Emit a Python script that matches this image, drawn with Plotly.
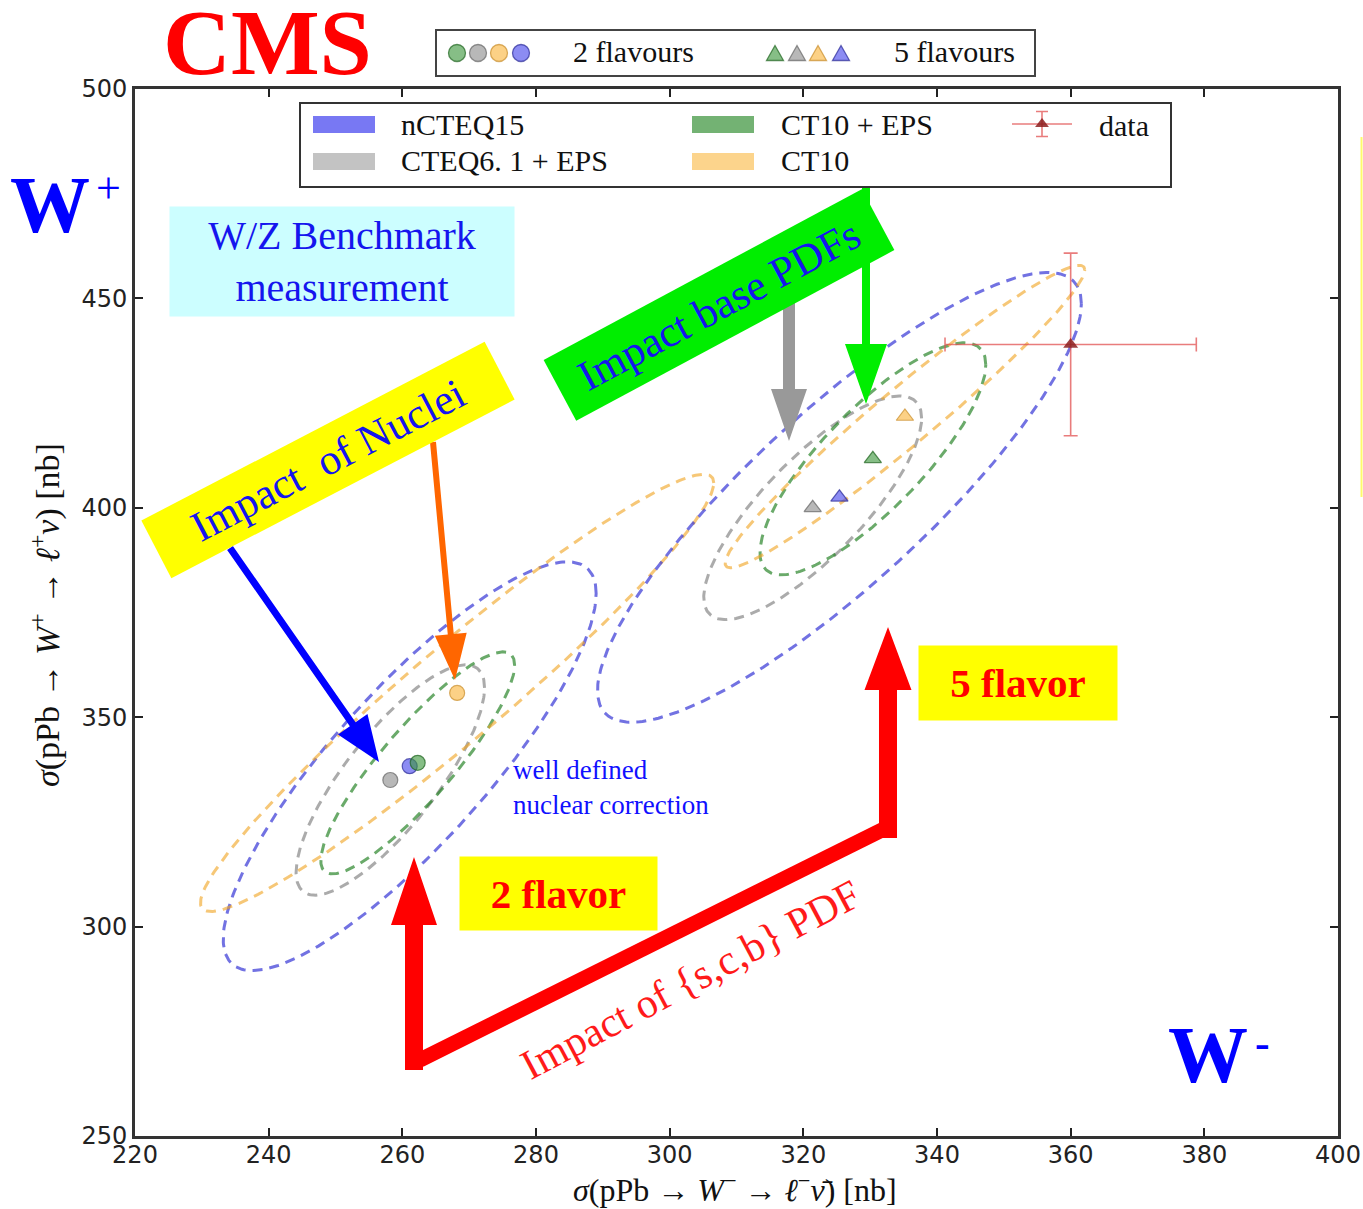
import numpy as np
import plotly.graph_objects as go

# ---- canvas / axes geometry -------------------------------------------------
FIG_W, FIG_H = 1363, 1209
M_L, M_R, M_T, M_B = 135, 25, 89, 73
PLOT_W = FIG_W - M_L - M_R
PLOT_H = FIG_H - M_T - M_B

X_MIN, X_MAX = 220, 400
Y_MIN, Y_MAX = 250, 500
x_ticks = list(range(220, 401, 20))
y_ticks = list(range(250, 501, 50))

# ---- PDF sets ---------------------------------------------------------------
pdf_names = ["nCTEQ15", "CTEQ6.1+EPS", "CT10+EPS", "CT10"]
pdf_line_colors = ["rgba(60,60,215,0.72)", "rgba(120,120,120,0.62)",
                   "rgba(35,130,35,0.68)", "rgba(240,165,35,0.62)"]
pdf_fill_colors = ["rgba(70,70,235,0.62)", "rgba(140,140,140,0.62)",
                   "rgba(60,150,60,0.62)", "rgba(250,180,60,0.62)"]
pdf_edge_colors = ["rgba(40,40,150,0.7)", "rgba(100,100,100,0.7)",
                   "rgba(30,100,30,0.7)", "rgba(200,140,40,0.7)"]
pdf_patch_colors = ["rgba(90,90,240,0.82)", "rgba(185,185,185,0.85)",
                    "rgba(90,165,90,0.85)", "rgba(252,205,120,0.85)"]

# 2 flavours: central values [nb] and 1-sigma correlation ellipses
nf2_wm = [261.1, 258.2, 262.3, 268.2]
nf2_wp = [338.3, 335.0, 339.1, 355.8]
nf2_sig_wm = [27.9, 14.1, 14.5, 38.4]
nf2_sig_wp = [48.8, 27.5, 26.5, 52.2]
nf2_rho = [0.845, 0.80, 0.88, 0.96]

# 5 flavours
nf5_wm = [325.4, 321.4, 330.4, 335.2]
nf5_wp = [402.5, 400.0, 411.7, 421.8]
nf5_sig_wm = [36.2, 16.3, 16.9, 26.9]
nf5_sig_wp = [53.7, 26.7, 27.7, 36.1]
nf5_rho = [0.86, 0.80, 0.81, 0.97]

# CMS measurement
data_wm, data_wp = 360.0, 439.0
data_err_wm, data_err_wp = 18.8, 21.8


# ---- helpers ----------------------------------------------------------------
def paper_x(px):
    return (px - M_L) / PLOT_W


def paper_y(py):
    return 1 - (py - M_T) / PLOT_H


def data_x(px):
    return X_MIN + (px - M_L) / PLOT_W * (X_MAX - X_MIN)


def data_y(py):
    return Y_MAX - (py - M_T) / PLOT_H * (Y_MAX - Y_MIN)


def ellipse(cx, cy, sx, sy, rho, n=300):
    t = np.linspace(0, 2 * np.pi, n)
    ex = cx + sx * np.cos(t)
    ey = cy + sy * (rho * np.cos(t) + np.sqrt(1 - rho ** 2) * np.sin(t))
    return ex, ey


def poly_path(pts):
    return "M " + " L ".join(f"{paper_x(a):.5f},{paper_y(b):.5f}" for a, b in pts) + " Z"


def arrow_shape(x0, y0, x1, y1, shaft, head_len, head_w, color):
    vx, vy = x1 - x0, y1 - y0
    L = np.hypot(vx, vy)
    ux, uy = vx / L, vy / L
    nx, ny = -uy, ux
    bx, by = x1 - ux * head_len, y1 - uy * head_len
    pts = [
        (x0 + nx * shaft / 2, y0 + ny * shaft / 2),
        (bx + nx * shaft / 2, by + ny * shaft / 2),
        (bx + nx * head_w / 2, by + ny * head_w / 2),
        (x1, y1),
        (bx - nx * head_w / 2, by - ny * head_w / 2),
        (bx - nx * shaft / 2, by - ny * shaft / 2),
        (x0 - nx * shaft / 2, y0 - ny * shaft / 2),
    ]
    return dict(type="path", xref="paper", yref="paper", path=poly_path(pts),
                fillcolor=color, line=dict(width=0), layer="above")


def band_shape(x0, y0, x1, y1, thick, color):
    vx, vy = x1 - x0, y1 - y0
    L = np.hypot(vx, vy)
    nx, ny = -vy / L, vx / L
    pts = [(x0 + nx * thick / 2, y0 + ny * thick / 2), (x1 + nx * thick / 2, y1 + ny * thick / 2),
           (x1 - nx * thick / 2, y1 - ny * thick / 2), (x0 - nx * thick / 2, y0 - ny * thick / 2)]
    return dict(type="path", xref="paper", yref="paper", path=poly_path(pts),
                fillcolor=color, line=dict(width=0), layer="above")


def rect_px(x0, y0, x1, y1, fill, line_color=None, lw=0, layer="above"):
    return dict(type="rect", xref="paper", yref="paper",
                x0=paper_x(x0), x1=paper_x(x1), y0=paper_y(y1), y1=paper_y(y0),
                fillcolor=fill, line=dict(color=line_color or fill, width=lw), layer=layer)


def circle_px(cx, cy, r, fill, edge):
    return dict(type="circle", xref="paper", yref="paper",
                x0=paper_x(cx - r), x1=paper_x(cx + r), y0=paper_y(cy + r), y1=paper_y(cy - r),
                fillcolor=fill, line=dict(color=edge, width=1.3), layer="above")


def triangle_px(cx, cy, half_w, h, fill, edge):
    pts = [(cx - half_w, cy + h / 2), (cx + half_w, cy + h / 2), (cx, cy - h / 2)]
    return dict(type="path", xref="paper", yref="paper", path=poly_path(pts),
                fillcolor=fill, line=dict(color=edge, width=1.3), layer="above")


SERIF = "Liberation Serif, Times New Roman, serif"
fig = go.Figure()

# ---- correlation ellipses -----------------------------------------------------
for cxs, cys, sxs, sys_, rhos in [(nf2_wm, nf2_wp, nf2_sig_wm, nf2_sig_wp, nf2_rho),
                                  (nf5_wm, nf5_wp, nf5_sig_wm, nf5_sig_wp, nf5_rho)]:
    for i in range(len(pdf_names)):
        ex, ey = ellipse(cxs[i], cys[i], sxs[i], sys_[i], rhos[i])
        fig.add_trace(go.Scatter(x=ex, y=ey, mode="lines", name=pdf_names[i],
                                 line=dict(color=pdf_line_colors[i], width=3, dash="10px,7px"),
                                 hoverinfo="skip"))

# central values: circles for 2 flavours, triangles for 5 flavours
draw_order = [1, 0, 2, 3]
for cxs, cys, sym in [(nf2_wm, nf2_wp, "circle"), (nf5_wm, nf5_wp, "triangle-up")]:
    for i in draw_order:
        fig.add_trace(go.Scatter(x=[cxs[i]], y=[cys[i]], mode="markers",
                                 marker=dict(symbol=sym, size=15, color=pdf_fill_colors[i],
                                             line=dict(color=pdf_edge_colors[i], width=1.2))))

# measurement
fig.add_trace(go.Scatter(
    x=[data_wm], y=[data_wp], mode="markers",
    marker=dict(symbol="triangle-up", size=13, color="rgba(140,30,30,0.85)"),
    error_x=dict(type="data", array=[data_err_wm], color="rgba(225,80,80,0.75)", thickness=1.6, width=7),
    error_y=dict(type="data", array=[data_err_wp], color="rgba(225,80,80,0.75)", thickness=1.6, width=7),
))

# legend sample of the measurement
leg_dx = 30 / PLOT_W * (X_MAX - X_MIN)
leg_dy = 12.5 / PLOT_H * (Y_MAX - Y_MIN)
fig.add_trace(go.Scatter(
    x=[data_x(1042)], y=[data_y(124)], mode="markers",
    marker=dict(symbol="triangle-up", size=12, color="rgba(140,30,30,0.85)"),
    error_x=dict(type="data", array=[leg_dx], color="rgba(225,80,80,0.75)", thickness=1.6, width=0),
    error_y=dict(type="data", array=[leg_dy], color="rgba(225,80,80,0.75)", thickness=1.6, width=6),
))

# ---- shapes -------------------------------------------------------------------
shapes = []
shapes.append(rect_px(436, 30, 1035, 76, "white", "#444", 2, layer="below"))
shapes.append(rect_px(300, 103, 1171, 187, "white", "#333", 2, layer="below"))
legend_patch_px = [(313, 116), (313, 153), (692, 116), (692, 153)]
for i, (px, py) in enumerate(legend_patch_px):
    shapes.append(rect_px(px, py, px + 62, py + 17, pdf_patch_colors[i]))

# flavour-scheme key above the frame (green, grey, orange, blue)
key_order = [2, 1, 3, 0]
key_circle_px = [457, 478, 499, 521]
key_tri_px = [775, 797, 818, 841]
for k, i in enumerate(key_order):
    shapes.append(circle_px(key_circle_px[k], 53, 8.5, pdf_fill_colors[i], pdf_edge_colors[i]))
    shapes.append(triangle_px(key_tri_px[k], 53, 8.5, 15, pdf_fill_colors[i], pdf_edge_colors[i]))

# arrows
shapes.append(arrow_shape(230, 548, 379, 762, 7, 46, 36, "#0000ff"))
shapes.append(arrow_shape(433, 442, 455, 680, 6, 46, 32, "#ff6600"))
shapes.append(arrow_shape(789, 232, 789, 441, 12, 52, 36, "#999999"))
shapes.append(arrow_shape(866, 188, 866, 404, 8, 60, 42, "#00ee00"))
shapes.append(arrow_shape(414, 1070, 414, 857, 18, 68, 46, "#ff0000"))
shapes.append(band_shape(420, 1060, 890, 826, 15, "#ff0000"))
shapes.append(arrow_shape(888, 838, 888, 627, 18, 63, 47, "#ff0000"))

# partial yellow frame at the right edge
shapes.append(dict(type="line", xref="paper", yref="paper",
                   x0=paper_x(1361.5), x1=paper_x(1361.5), y0=paper_y(137), y1=paper_y(497),
                   line=dict(color="rgba(255,250,90,0.9)", width=2), layer="above"))

# ---- text -------------------------------------------------------------------
ann = []


def text(px, py, s, size, color="#111", family=SERIF, xanchor="center", yanchor="middle",
         angle=0, bg=None, w=None, h=None, align="center"):
    d = dict(xref="paper", yref="paper", x=paper_x(px), y=paper_y(py), text=s, showarrow=False,
             font=dict(size=size, color=color, family=family), xanchor=xanchor, yanchor=yanchor,
             textangle=angle, align=align, borderpad=0)
    if bg:
        d["bgcolor"] = bg
    if w:
        d["width"] = w
    if h:
        d["height"] = h
    ann.append(d)


text(267, 42, "<b>CMS</b>", 94, color="#ff0000")
text(50, 205, "<b>W</b>", 80, color="#0000ff")
text(108, 188, "+", 44, color="#0000ff")
text(1208, 1055, "<b>W</b>", 80, color="#0000ff")
text(1262, 1043, "<b>-</b>", 44, color="#0000ff")

text(342, 261.5, "W/Z Benchmark<br>measurement", 40, color="#1515ee",
     bg="#ccfeff", w=344, h=109)
text(328, 460, "Impact\u00a0 of Nuclei", 43, color="#1515ee",
     angle=-27.5, bg="#ffff00", w=386, h=64)
text(719, 305, "Impact base PDFs", 43, color="#1515ee",
     angle=-28.2, bg="#00ee00", w=360, h=68)
text(558.5, 893.5, "<b>2 flavor</b>", 41, color="#ff0000", bg="#ffff00", w=197, h=73)
text(1018, 683, "<b>5 flavor</b>", 41, color="#ff0000", bg="#ffff00", w=198, h=74)
text(512, 787, "well defined<br>nuclear correction", 27, color="#1010ff",
     xanchor="left", align="left")
text(690, 980, "Impact of {s,c,b} PDF", 42, color="#ff1a1a", angle=-28)

# legend labels
text(400, 124, "nCTEQ15", 30, xanchor="left")
text(400, 161, "CTEQ6. 1 + EPS", 30, xanchor="left")
text(780, 124, "CT10 + EPS", 30, xanchor="left")
text(780, 161, "CT10", 30, xanchor="left")
text(1098, 125, "data", 30, xanchor="left")
text(572, 51, "2 flavours", 30, xanchor="left")
text(893, 51, "5 flavours", 30, xanchor="left")

# axis titles
text(735, 1188, "<i>σ</i>(pPb → <i>W</i><sup>−</sup> → <i>ℓ</i><sup>−</sup><i>ν̄</i>) [nb]", 32)
text(45, 615, "<i>σ</i>(pPb → <i>W</i><sup>+</sup> → <i>ℓ</i><sup>+</sup><i>ν</i>) [nb]", 34, angle=-90)

# ---- layout -------------------------------------------------------------------
axis_common = dict(showline=True, linecolor="#333", linewidth=3, mirror="allticks",
                   ticks="inside", ticklen=8, tickwidth=2, tickcolor="#222",
                   showgrid=False, zeroline=False,
                   tickfont=dict(family="DejaVu Sans", size=24, color="#222"))
fig.update_layout(
    width=FIG_W, height=FIG_H,
    margin=dict(l=M_L, r=M_R, t=M_T, b=M_B, autoexpand=False),
    paper_bgcolor="white", plot_bgcolor="white",
    showlegend=False,
    xaxis=dict(range=[X_MIN, X_MAX], tickvals=x_ticks, ticklabelstandoff=-5, **axis_common),
    yaxis=dict(range=[Y_MIN, Y_MAX], tickvals=y_ticks, **axis_common),
    shapes=shapes, annotations=ann,
)

fig.write_html("out.html")
